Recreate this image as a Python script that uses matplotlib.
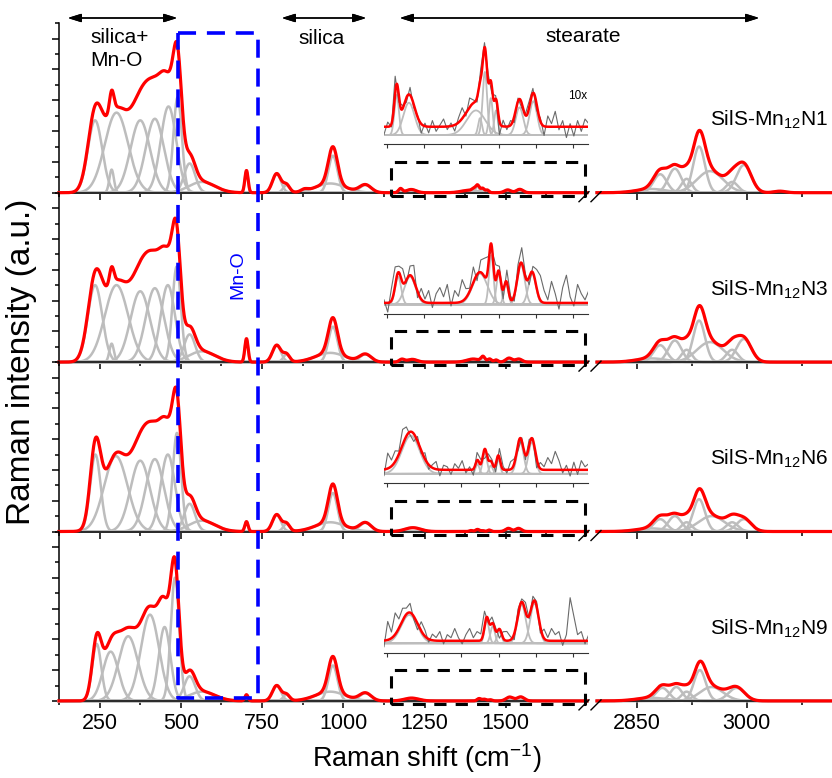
import numpy as np
import matplotlib.pyplot as plt
from matplotlib.lines import Line2D
from matplotlib.transforms import blended_transform_factory

plt.rcParams['font.family'] = ['Liberation Sans', 'DejaVu Sans']
plt.rcParams['mathtext.default'] = 'regular'

samples = ['SilS-Mn$_{12}$N1', 'SilS-Mn$_{12}$N3', 'SilS-Mn$_{12}$N6', 'SilS-Mn$_{12}$N9']

# fitted bands (centre / cm-1, height / a.u., sigma / cm-1), 125-1750 cm-1
low_n1 = [(236, 2.35, 22), (287, 0.75, 7), (302, 2.6, 36), (375, 2.35, 30), (420, 2.4, 28),
          (462, 2.8, 24), (490, 3.1, 13), (527, 0.95, 17), (565, 0.35, 40), (702, 0.72, 5),
          (795, 0.62, 13), (825, 0.25, 10), (880, 0.07, 10), (968, 1.2, 14), (960, 0.3, 45),
          (1068, 0.25, 18)]
low_n3 = [(236, 2.5, 22), (287, 0.6, 7), (302, 2.5, 36), (375, 2.3, 30), (420, 2.4, 28),
          (460, 2.5, 22), (487, 3.1, 13), (527, 0.9, 17), (565, 0.35, 40), (702, 0.76, 5),
          (795, 0.55, 13), (825, 0.25, 10), (968, 1.15, 14), (960, 0.3, 45), (1068, 0.25, 18)]
low_n6 = [(237, 2.5, 16), (300, 2.45, 36), (375, 2.3, 30), (420, 2.35, 28), (460, 2.5, 22),
          (488, 3.2, 13), (527, 0.9, 17), (565, 0.35, 40), (702, 0.32, 5), (795, 0.55, 13),
          (825, 0.25, 10), (968, 1.25, 14), (960, 0.3, 45), (1068, 0.28, 18)]
low_n9 = [(241, 1.85, 14), (284, 1.6, 24), (338, 2.1, 30), (405, 2.8, 28), (450, 2.4, 18),
          (482, 4.0, 13), (527, 0.8, 17), (565, 0.3, 40), (702, 0.2, 5), (795, 0.5, 13),
          (825, 0.2, 10), (968, 1.15, 14), (960, 0.3, 45), (1068, 0.25, 18)]

# stearate bands, heights as shown in the 10x insets
st_n1 = [(1176, 1.3, 6), (1209, 1.05, 15), (1389, 0.8, 25), (1400, 0.55, 5), (1413, 2.05, 6),
         (1429, 1.2, 5), (1443, 0.8, 5), (1506, 0.9, 10), (1543, 1.1, 10)]
st_n3 = [(1180, 0.9, 8), (1212, 0.9, 15), (1400, 1.0, 20), (1430, 1.6, 6), (1450, 1.0, 6),
         (1470, 0.7, 6), (1510, 1.3, 10), (1540, 1.0, 10)]
st_n6 = [(1214, 1.24, 24), (1393, 0.32, 5), (1413, 0.68, 6), (1429, 0.27, 5), (1449, 0.47, 5),
         (1508, 1.03, 9), (1539, 1.03, 9)]
st_n9 = [(1210, 0.92, 22), (1418, 0.76, 6), (1434, 0.55, 6), (1452, 0.38, 6), (1512, 1.25, 11),
         (1546, 1.3, 11)]
st_offset = [0.27, 0.05, 0.13, 0.08]

# measured minus fit in the insets, every 10 cm-1 from 1142 cm-1
raw_x = np.arange(1142, 1693, 10)
dev_n1 = [-0.25, 0.15, -0.1, 0.55, -0.2, 0.1, -0.15, 0.25, -0.1, 0.05, -0.3, 0.1, -0.2, 0.2,
          -0.15, 0.05, 0.25, -0.1, 0.1, -0.2, 0.15, 0.35, -0.1, 0.3, 0.1, -0.15, 0.3, 0.15,
          0.25, -0.2, 0.1, -0.45, 0.2, -0.1, 0.15, -0.2, 0.1, -0.15, 0.05, 0.2, 0.15, -0.2,
          0.1, -0.3, 0.35, 0.1, 0.5, -0.1, 0.2, -0.35, 0.1, -0.3, 0.2, -0.15, 0.25, 0.1]
dev_n3 = [0.1, -0.3, 0.4, 0.6, 0.2, 0.45, -0.1, 0.3, 0.5, -0.2, 0.35, 0.1, 0.4, -0.15,
          0.3, 0.5, 0.2, 0.6, -0.1, 0.4, 0.2, 0.7, 0.3, 0.1, 0.5, -0.2, 0.4, 0.6, 0.3,
          -0.1, 0.5, 0.2, -0.3, 0.4, 0.1, -0.2, 0.3, 0.5, 0.1, -0.25, 0.2, 0.6, 0.8, 0.4,
          0.1, 0.7, 0.3, -0.2, 0.5, 0.9, 0.2, -0.1, 0.6, 0.3, 0.1, 0.4]
dev_n6 = [-0.2, 0.5, 0.2, 0.35, 0.1, 0.5, 0.3, -0.1, -0.25, 0.15, -0.1, 0.2, -0.15, 0.1,
          0.25, -0.2, 0.15, 0.1, -0.15, 0.2, 0.05, 0.3, -0.1, 0.1, -0.2, 0.25, 0.15, -0.3,
          0.2, 0.1, -0.25, 0.3, 0.1, -0.1, 0.25, 0.15, -0.2, 0.1, -0.15, 0.2, 0.05, -0.3,
          0.2, 0.1, 0.4, 0.2, 0.6, 0.3, -0.1, 0.15, -0.2, 0.25, -0.15, 0.3, 0.1, 0.2]
dev_n9 = [-0.2, 0.6, 0.2, 0.7, 0.3, 0.4, 0.2, 0.3, -0.1, -0.2, 0.3, 0.2, -0.1, 0.2,
          0.1, 0.3, -0.1, 0.2, 0.1, 0.4, 0.1, -0.1, 0.2, 0.4, 0.1, 0.3, 0.2, 0.5,
          -0.1, 0.2, 0.1, -0.3, 0.2, 0.3, 0.1, -0.2, 0.2, 0.1, 0.3, -0.1, 0.2, 0.15,
          -0.2, 0.3, 0.1, 0.4, 0.2, 0.3, -0.15, 0.2, 1.4, 0.8, 0.2, 0.3, -0.1, 0.2]

# C-H stretching bands, 2796-3116 cm-1
ch_n1 = [(2870, 0.12, 20), (2882, 0.6, 9), (2902, 0.78, 9), (2918, 0.45, 7), (2935, 1.5, 8),
         (2950, 0.7, 18), (2980, 0.35, 8), (2996, 0.9, 10), (3045, 0.05, 8)]
ch_n3 = [(2870, 0.12, 20), (2882, 0.55, 9), (2902, 0.7, 9), (2918, 0.4, 7), (2935, 1.35, 8),
         (2950, 0.65, 18), (2980, 0.4, 8), (2996, 0.75, 10)]
ch_n6 = [(2870, 0.1, 20), (2882, 0.4, 9), (2902, 0.5, 9), (2918, 0.3, 7), (2935, 1.05, 8),
         (2952, 0.5, 18), (2980, 0.3, 8), (2996, 0.4, 10)]
ch_n9 = [(2870, 0.1, 20), (2885, 0.42, 9), (2904, 0.45, 8), (2918, 0.3, 7), (2936, 1.0, 8),
         (2952, 0.45, 16), (2986, 0.42, 11)]

low = [low_n1, low_n3, low_n6, low_n9]
stear = [st_n1, st_n3, st_n6, st_n9]
devs = [dev_n1, dev_n3, dev_n6, dev_n9]
ch = [ch_n1, ch_n3, ch_n6, ch_n9]


def band(x, c, h, s):
    return h * np.exp(-0.5 * ((x - c) / s) ** 2)


W, H = 832, 778
fig = plt.figure(figsize=(W / 100, H / 100), dpi=100)


def box(x0, ytop, x1, ybot):
    return [x0 / W, 1 - ybot / H, (x1 - x0) / W, (ybot - ytop) / H]


GREY = '#bdbdbd'
RED = '#ff0000'
panel_h = 169.4
xl = np.linspace(125, 1750, 2500)
xr = np.linspace(2796, 3116, 800)
xi = np.linspace(1142, 1690, 1200)

for i in range(4):
    bot = 192.7 + panel_h * i
    axl = fig.add_axes(box(59, bot - panel_h, 587, bot))
    axr = fig.add_axes(box(597, bot - panel_h, 832, bot))
    axi = fig.add_axes(box(384, bot - panel_h, 588, bot - 48.4))
    for ax in (axl, axr, axi):
        ax.set_facecolor('none')
        for s in ('top', 'right'):
            ax.spines[s].set_visible(False)
    axr.spines['left'].set_visible(False)
    axi.spines['left'].set_visible(False)

    # main spectrum, left part
    comps = low[i] + [(c, h / 10, s) for c, h, s in stear[i]]
    total = np.zeros_like(xl)
    for c, h, s in comps:
        y = band(xl, c, h, s)
        total += y
        axl.plot(xl, y, color=GREY, lw=1.8, clip_on=False, zorder=2)
    axl.plot(xl, total, color=RED, lw=2.3, clip_on=False, zorder=4)
    axl.plot([1146, 1743, 1743, 1146, 1146], [-0.1, -0.1, 1.0, 1.0, -0.1], color='k',
             lw=2.2, ls=(0, (4, 3)), clip_on=False, zorder=5)
    axl.set_xlim(125, 1750)
    axl.set_ylim(0, 5.5)
    axl.set_xticks(np.arange(250, 1501, 250))
    axl.set_xticks(np.arange(125, 1751, 250), minor=True)
    axl.set_yticks(np.arange(0, 6, 1))
    axl.set_yticks(np.arange(0.5, 5.6, 1), minor=True)
    axl.set_yticklabels([])

    # right part
    tot_r = np.zeros_like(xr)
    for c, h, s in ch[i]:
        y = band(xr, c, h, s)
        tot_r += y
        axr.plot(xr, y, color=GREY, lw=1.8, clip_on=False, zorder=2)
    axr.plot(xr, tot_r, color=RED, lw=2.3, clip_on=False, zorder=4)
    axr.set_xlim(2796, 3116)
    axr.set_ylim(0, 5.5)
    axr.set_xticks([2850, 3000])
    axr.set_xticks([2925, 3075], minor=True)
    axr.set_yticks([])
    axr.text(0.983, 2.35, samples[i], ha='right', va='center', fontsize=15,
             transform=blended_transform_factory(axr.transAxes, axr.transData))

    for ax in (axl, axr):
        ax.tick_params(which='major', direction='out', length=5, width=1.1, labelsize=15.5)
        ax.tick_params(which='minor', direction='out', length=3, width=1.1)
        for s in ('left', 'bottom'):
            ax.spines[s].set_linewidth(1.1)
        if i < 3:
            ax.set_xticklabels([])

    # 10x inset of the stearate region
    fit_i = np.full_like(xi, st_offset[i])
    for c, h, s in stear[i]:
        y = band(xi, c, h, s)
        fit_i += y
        axi.plot(xi, y, color=GREY, lw=1.3, zorder=2)
    raw = st_offset[i] + np.array(devs[i])
    for c, h, s in stear[i]:
        raw = raw + band(raw_x, c, h, s)
    axi.plot(raw_x, raw, color='#6a6a6a', lw=0.8, zorder=3)
    axi.plot(xi, fit_i, color=RED, lw=1.8, zorder=4)
    axi.set_xlim(1142, 1690)
    axi.set_ylim(-0.3, 3.63)
    axi.set_xticks(np.arange(1150, 1651, 100))
    axi.set_xticklabels([])
    axi.set_yticks([])
    axi.tick_params(direction='out', length=3, width=0.8, color='#333333')
    axi.spines['bottom'].set_linewidth(0.8)
    axi.spines['bottom'].set_color('#333333')

    # axis break marks
    for dx in (0, 12):
        fig.add_artist(Line2D([(579 + dx) / W, (589 + dx) / W],
                              [1 - (bot + 9) / H, 1 - (bot - 1) / H],
                              transform=fig.transFigure, color='k', lw=1))
    if i == 3:
        bot_ax = axl

# Mn-O window across all panels
tb = blended_transform_factory(bot_ax.transData, fig.transFigure)
yt, yb = 1 - 32.7 / H, 1 - 698 / H
fig.add_artist(Line2D([492, 737, 737, 492, 492], [yt, yt, yb, yb, yt], transform=tb,
                      color='#0000ff', lw=2.6, ls=(0, (5, 3))))
fig.text(238 / W, 1 - 275 / H, 'Mn-O', rotation=90, color='#0000ff', fontsize=14,
         ha='center', va='center')

# region arrows and labels
for x0, x1 in ((65, 180), (279, 369), (397, 762)):
    fig.add_artist(plt.annotate('', xy=(x0 / W, 1 - 18 / H), xytext=(x1 / W, 1 - 18 / H),
                                xycoords='figure fraction', textcoords='figure fraction',
                                arrowprops=dict(arrowstyle='<|-|>,head_length=0.8,head_width=0.25',
                                                color='k', lw=1)))
fig.text(90 / W, 1 - 28 / H, 'silica+\nMn-O', ha='left', va='top', fontsize=15, linespacing=1.25)
fig.text(322 / W, 1 - 39 / H, 'silica', ha='center', va='center', fontsize=15)
fig.text(583 / W, 1 - 37 / H, 'stearate', ha='center', va='center', fontsize=15)
fig.text(578 / W, 1 - 96 / H, '10x', ha='center', va='center', fontsize=8.5)

fig.text(427 / W, 1 - 758 / H, 'Raman shift (cm$^{-1}$)', ha='center', va='center', fontsize=19.5)
fig.text(22 / W, 1 - 362 / H, 'Raman intensity (a.u.)', ha='center', va='center',
         rotation=90, fontsize=24)

fig.savefig('out.png', dpi=100)
